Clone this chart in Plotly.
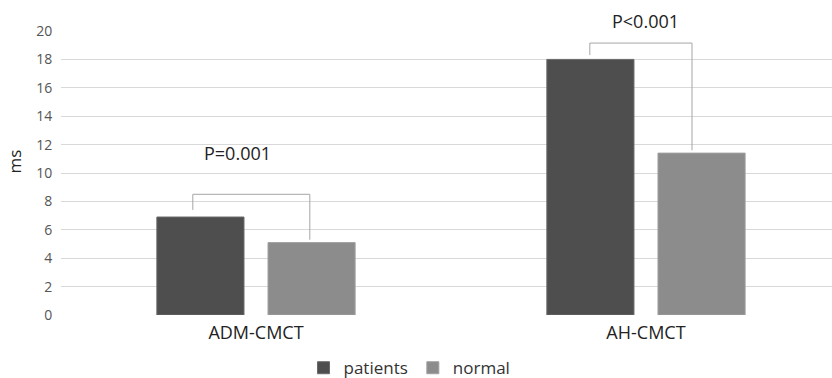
import plotly.graph_objects as go

categories = ["ADM-CMCT", "AH-CMCT"]
patients = [6.9, 18.0]
normal = [5.1, 11.4]
p_labels = ["P=0.001", "P<0.001"]
y_ticks = [0, 2, 4, 6, 8, 10, 12, 14, 16, 18, 20]
y_max = 20

# significance brackets: (left x, right x, left foot y, top y, right foot y)
brackets = [
    (-0.162, 0.138, 7.4, 8.5, 5.3),
    (0.856, 1.118, 18.3, 19.15, 11.6),
]
p_label_pos = [(-0.048, 11.4), (1.0, 20.7)]

font_family = "Open Sans, sans-serif"
x_pos = list(range(len(categories)))

fig = go.Figure()
fig.add_trace(go.Bar(
    x=x_pos, y=patients, name="patients",
    marker=dict(color="#4e4e4e", line=dict(color="#6a6a6a", width=1)),
))
fig.add_trace(go.Bar(
    x=x_pos, y=normal, name="normal",
    marker=dict(color="#8c8c8c", line=dict(color="#a0a0a0", width=1)),
))

for (xl, xr, yl, yt, yr) in brackets:
    fig.add_shape(type="path",
                  path=f"M {xl},{yl} L {xl},{yt} L {xr},{yt} L {xr},{yr}",
                  xref="x", yref="y",
                  line=dict(color="#a6a6a6", width=1))

# p-value labels; placed in paper units so the top one can sit above the axis range
for txt, (px, py) in zip(p_labels, p_label_pos):
    fig.add_annotation(x=px, y=py / y_max, text=txt, showarrow=False,
                       xref="x", yref="paper", xanchor="center", yanchor="middle",
                       font=dict(size=18, color="#222222", family=font_family))

# y-axis unit label, to the left of the tick labels
fig.add_annotation(x=-0.06, y=0.54, xref="paper", yref="paper", text="ms",
                   textangle=-90, showarrow=False,
                   xanchor="center", yanchor="middle",
                   font=dict(size=17, color="#222222", family=font_family))

fig.update_layout(
    width=832, height=378,
    margin=dict(l=61, r=0, t=31, b=63),
    paper_bgcolor="white", plot_bgcolor="white",
    barmode="group", bargap=0.43, bargroupgap=0.216,
    font=dict(family=font_family, color="#595959"),
    showlegend=True,
    legend=dict(orientation="h", x=0.452, xanchor="center",
                yref="container", y=0.026, yanchor="middle",
                font=dict(size=17, color="#333333", family=font_family),
                itemwidth=30, traceorder="normal"),
    xaxis=dict(tickmode="array", tickvals=x_pos, ticktext=categories,
               range=[-0.5, 1.477], showgrid=False, zeroline=False,
               showline=False, ticks="outside", ticklen=1, tickcolor="white",
               tickfont=dict(size=18, color="#222222")),
    yaxis=dict(range=[0, y_max], tickvals=y_ticks, showgrid=True,
               gridcolor="#d9d9d9", gridwidth=1, zeroline=False,
               showline=False, ticks="outside", ticklen=5, tickcolor="white",
               tickfont=dict(size=14, color="#555555")),
)

fig.write_html("out.html")
